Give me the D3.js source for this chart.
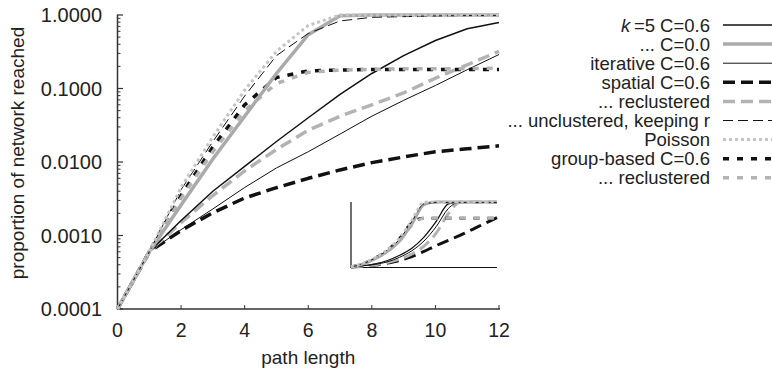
<!DOCTYPE html>
<html><head><meta charset="utf-8">
<script src="https://cdn.jsdelivr.net/npm/d3@7"></script>
<style>body{margin:0;background:#fff}svg{display:block}text{font-family:"Liberation Sans",Arial,sans-serif;fill:#222}</style>
</head><body><svg id="c" width="772" height="371"></svg>
<script>
// ---- data ----
const pathLength = [0,1,2,3,4,5,6,7,8,9,10,11,12];
const yTickLabels = ["0.0001","0.0010","0.0100","0.1000","1.0000"];
const yTickValues = [0.0001,0.001,0.01,0.1,1];
const xTickValues = [0,2,4,6,8,10,12];
const seriesNames = ["k=5 C=0.6","... C=0.0","iterative C=0.6","spatial C=0.6","... reclustered","... unclustered, keeping r","Poisson","group-based C=0.6","... reclustered"];
const k5C06        = [0.0001,0.0006,0.0016,0.0040,0.0087,0.019,0.040,0.083,0.16,0.28,0.45,0.65,0.79];
const k5C00        = [0.0001,0.0006,0.0026,0.011,0.042,0.16,0.54,0.98,1,1,1,1,1];
const iterative    = [0.0001,0.0006,0.0012,0.0023,0.0045,0.0083,0.0138,0.024,0.042,0.069,0.11,0.18,0.29];
const spatial      = [0.0001,0.0006,0.00117,0.00204,0.00324,0.00447,0.0060,0.0078,0.0098,0.0117,0.0138,0.0151,0.0166];
const spatialRecl  = [0.0001,0.0006,0.0015,0.0035,0.0076,0.0148,0.027,0.042,0.060,0.087,0.138,0.21,0.32];
const unclustered  = [0.0001,0.0006,0.0042,0.019,0.079,0.28,0.56,0.83,0.93,0.95,0.97,0.98,0.98];
const poisson      = [0.0001,0.0006,0.0045,0.022,0.095,0.32,0.72,1,1,1,1,1,1];
const groupBased   = [0.0001,0.0006,0.0035,0.016,0.060,0.141,0.174,0.178,0.182,0.182,0.182,0.182,0.182];
const groupRecl    = [0.0001,0.0006,0.0032,0.0138,0.050,0.117,0.166,0.178,0.182,0.186,0.186,0.186,0.19];
// inset (linear scale) values
const insK5C06       = [0,0.02,0.05,0.10,0.18,0.29,0.46,0.70,0.97,1,1,1,1];
const insK5C00       = [0,0.05,0.13,0.24,0.40,0.66,0.96,1,1,1,1,1,1];
const insIterative   = [0,0.02,0.04,0.08,0.15,0.25,0.40,0.62,0.90,1,1,1,1];
const insSpatial     = [0,0.01,0.03,0.06,0.10,0.16,0.24,0.33,0.41,0.49,0.58,0.67,0.76];
const insSpatialRecl = [0,0.015,0.035,0.07,0.12,0.20,0.32,0.52,0.82,1,1,1,1];
const insUnclustered = [0,0.05,0.14,0.26,0.43,0.70,0.97,0.99,0.99,0.99,0.99,0.99,0.99];
const insPoisson     = [0,0.06,0.15,0.27,0.45,0.72,1,1,1,1,1,1,1];
const insGroupBased  = [0,0.05,0.14,0.26,0.44,0.68,0.75,0.75,0.75,0.75,0.75,0.75,0.75];
const insGroupRecl   = [0,0.05,0.13,0.24,0.41,0.64,0.75,0.75,0.75,0.75,0.75,0.75,0.75];

const styles = [
  {c:"#111", w:1.5, d:null},
  {c:"#aaa", w:3.5, d:null},
  {c:"#111", w:1,   d:null},
  {c:"#111", w:3.5, d:"12,6"},
  {c:"#b3b3b3", w:3.5, d:"12,6"},
  {c:"#111", w:1,   d:"10,5"},
  {c:"#c4c4c4", w:3, d:"3,3"},
  {c:"#111", w:3.5, d:"6,8"},
  {c:"#b3b3b3", w:3.5, d:"6,8"}
];
const mainData = [k5C06,k5C00,iterative,spatial,spatialRecl,unclustered,poisson,groupBased,groupRecl];
const insetData = [insK5C06,insK5C00,insIterative,insSpatial,insSpatialRecl,insUnclustered,insPoisson,insGroupBased,insGroupRecl];
const drawOrder = [3,4,2,0,7,8,1,5,6];

const svg = d3.select("#c");
const x = d3.scaleLinear().domain([0,12]).range([117.5,499]);
const y = d3.scaleLog().domain([1e-4,1]).range([309,15]);

// axes
const axCol = "#333";
const gx = svg.append("g").attr("transform","translate(0,309)");
gx.append("line").attr("x1",x(0)).attr("x2",x(12)+1).attr("stroke",axCol).attr("stroke-width",1.5);
xTickValues.forEach(v=>{
  if(v>0) gx.append("line").attr("x1",x(v)).attr("x2",x(v)).attr("y1",0).attr("y2",-4).attr("stroke",axCol).attr("stroke-width",1);
  gx.append("text").attr("x",x(v)).attr("y",28).attr("text-anchor","middle").attr("font-size",19.5).text(v);
});
svg.append("text").attr("x",(x(0)+x(12))/2).attr("y",364).attr("text-anchor","middle").attr("font-size",19).text("path length");

const gy = svg.append("g");
gy.append("line").attr("x1",117.5).attr("x2",117.5).attr("y1",y(1)-0.5).attr("y2",309.5).attr("stroke",axCol).attr("stroke-width",1.5);
for(let e=-4;e<0;e++){
  for(let m=2;m<=9;m++){
    const v=m*Math.pow(10,e);
    gy.append("line").attr("x1",117.5).attr("x2",120.5).attr("y1",y(v)).attr("y2",y(v)).attr("stroke",axCol).attr("stroke-width",1);
  }
}
yTickValues.forEach((v,i)=>{
  gy.append("line").attr("x1",117.5).attr("x2",123).attr("y1",y(v)).attr("y2",y(v)).attr("stroke",axCol).attr("stroke-width",1.2);
  gy.append("text").attr("x",102).attr("y",y(v)).attr("dy","0.36em").attr("text-anchor","end").attr("font-size",20).text(yTickLabels[i]);
});
svg.append("text").attr("transform","translate(24,153) rotate(-90)").attr("text-anchor","middle").attr("font-size",19).text("proportion of network reached");

// main lines
const line = d3.line().x((d,i)=>x(pathLength[i])).y(d=>y(d));
drawOrder.forEach(k=>{
  const s=styles[k];
  svg.append("path").attr("d",line(mainData[k])).attr("fill","none").attr("stroke",s.c)
    .attr("stroke-width",s.w).attr("stroke-dasharray",s.d).attr("stroke-linejoin","round");
});

// inset
const ix = d3.scaleLinear().domain([0,12]).range([351,497]);
const iy = d3.scaleLinear().domain([0,1]).range([267,202]);
const ig = svg.append("g");
ig.append("line").attr("x1",351).attr("x2",351).attr("y1",202).attr("y2",267.5).attr("stroke","#111").attr("stroke-width",1.2);
ig.append("line").attr("x1",350.5).attr("x2",497).attr("y1",267.5).attr("y2",267.5).attr("stroke","#111").attr("stroke-width",1.2);
const iline = d3.line().curve(d3.curveMonotoneX).x((d,i)=>ix(pathLength[i])).y(d=>iy(d));
drawOrder.forEach(k=>{
  const s=styles[k];
  ig.append("path").attr("d",iline(insetData[k])).attr("fill","none").attr("stroke",s.c)
    .attr("stroke-width",Math.max(1,s.w*0.85)).attr("stroke-dasharray",s.d).attr("stroke-linejoin","round");
});

// legend
const lg = svg.append("g");
seriesNames.forEach((n,i)=>{
  const yy = 25 + i*19.1;
  const t = lg.append("text").attr("x",710).attr("y",yy).attr("dy","0.36em").attr("text-anchor","end").attr("font-size",18.5);
  if(i===0){
    t.append("tspan").attr("font-style","italic").text("k");
    t.append("tspan").text("\u2009=5 C=0.6");
  } else t.text(n);
  const s=styles[i];
  lg.append("line").attr("x1",723).attr("x2",790).attr("y1",yy).attr("y2",yy).attr("stroke",s.c)
    .attr("stroke-width",s.w).attr("stroke-dasharray",s.d);
});
</script></body></html>
